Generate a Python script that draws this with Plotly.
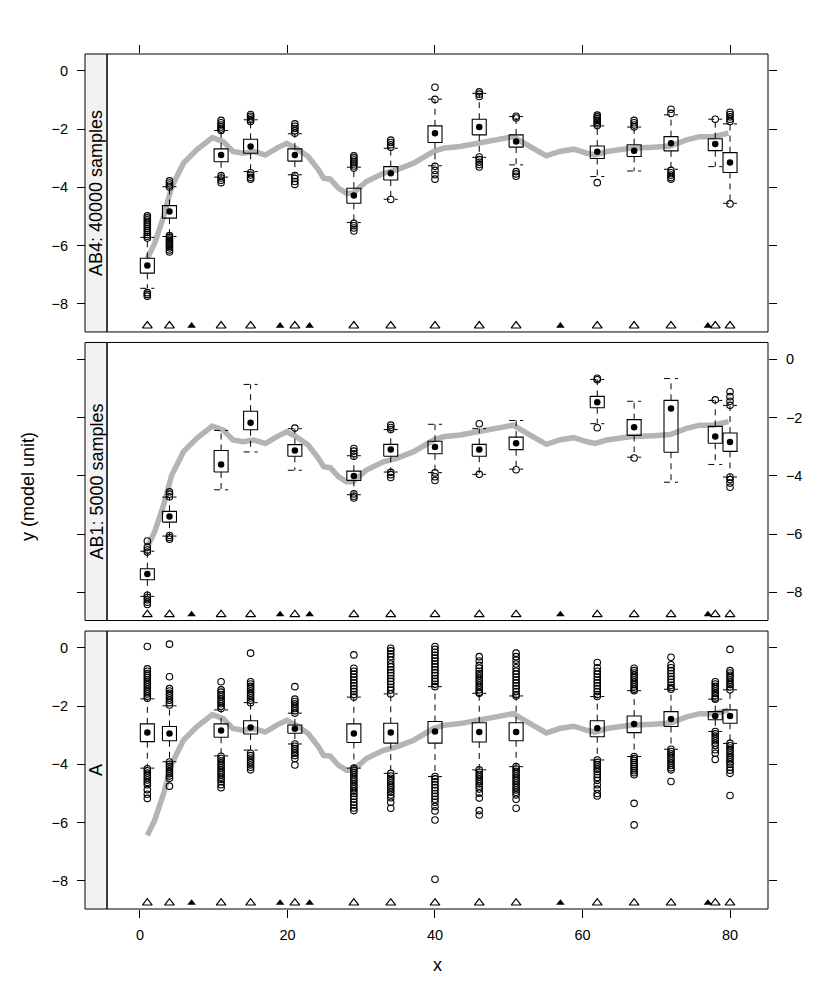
import plotly.graph_objects as go

# positions along x where boxes sit, plus the rug of triangles at the bottom
box_x = [1, 4, 11, 15, 21, 29, 34, 40, 46, 51, 62, 67, 72, 78, 80]
rug_open_x = [1, 4, 11, 15, 21, 29, 34, 40, 46, 51, 62, 67, 72, 78, 80]
rug_filled_x = [7, 19, 23, 57, 77]
rug_y = -8.76

# grey reference curve (same in every panel)
smooth_x = [1, 2, 3.2, 4.3, 5.9, 7.7, 9.8, 11.3, 12.6, 14.0, 15.4, 17.0, 18.5, 19.9,
            21.2, 22.8, 24.2, 24.9, 25.8, 26.9, 28.0, 28.9, 30.7, 33.0, 34.8, 37.1,
            39.8, 41.1, 43.4, 45.7, 48.4, 50.6, 52.9, 55.1, 56.9, 58.8, 60.6, 61.7,
            63.3, 66.4, 69.6, 71.9, 74.1, 75.9, 77.7, 79.8]
smooth_y = [-6.44, -5.92, -5.01, -3.98, -3.17, -2.71, -2.29, -2.43, -2.77, -2.83, -2.77,
            -2.89, -2.66, -2.49, -2.66, -2.94, -3.40, -3.69, -3.72, -4.03, -4.20, -4.20,
            -3.80, -3.52, -3.40, -3.17, -2.77, -2.66, -2.60, -2.49, -2.37, -2.26, -2.60,
            -2.92, -2.77, -2.69, -2.83, -2.89, -2.77, -2.66, -2.62, -2.58, -2.37, -2.26,
            -2.26, -2.14]

# AB4: 40000 samples
ab4_q3 = [-6.44, -4.63, -2.68, -2.35, -2.68, -4.03, -3.29, -1.89, -1.66, -2.20, -2.58, -2.54, -2.26, -2.33, -2.81]
ab4_q1 = [-6.95, -5.06, -3.12, -2.83, -3.10, -4.55, -3.75, -2.46, -2.20, -2.62, -3.01, -2.94, -2.75, -2.74, -3.49]
ab4_med = [-6.69, -4.83, -2.89, -2.60, -2.89, -4.28, -3.52, -2.14, -1.93, -2.43, -2.78, -2.74, -2.49, -2.51, -3.15]
ab4_hi = [-5.72, -3.98, -2.05, -1.68, -2.16, -3.31, -2.66, -0.97, -0.77, -1.57, -1.89, -1.93, -1.51, -1.66, -1.82]
ab4_lo = [-7.47, -5.69, -3.65, -3.46, -3.57, -5.21, -4.41, -3.26, -2.97, -3.23, -3.63, -3.44, -3.38, -3.29, -4.55]
ab4_out = [
    [-4.98, -5.05, -5.12, -5.2, -5.27, -5.34, -5.41, -5.48, -5.55, -5.62, -5.68, -5.74, -7.62, -7.68, -7.74],
    [-3.78, -3.85, -3.92, -3.99, -5.66, -5.72, -5.78, -5.84, -5.9, -5.96, -6.02, -6.08, -6.15, -6.22],
    [-1.7, -1.78, -1.86, -1.93, -2.0, -2.05, -3.6, -3.68, -3.76, -3.84],
    [-1.5, -1.56, -1.62, -1.68, -1.74, -3.5, -3.58, -3.66, -3.72],
    [-1.82, -1.9, -1.98, -2.06, -2.14, -3.6, -3.7, -3.8, -3.9],
    [-2.92, -2.99, -3.06, -3.13, -3.2, -3.27, -3.34, -5.24, -5.32, -5.4, -5.5],
    [-2.38, -2.46, -2.54, -2.62, -4.42],
    [-0.56, -0.98, -3.28, -3.42, -3.57, -3.72],
    [-0.72, -0.8, -0.88, -2.96, -3.05, -3.14, -3.22, -3.3],
    [-1.56, -1.62, -3.46, -3.54, -3.62],
    [-1.52, -1.58, -1.64, -1.7, -1.76, -1.82, -1.88, -3.84],
    [-1.7, -1.78, -1.86, -1.93],
    [-1.32, -1.46, -3.42, -3.5, -3.58, -3.66, -3.72],
    [-1.66],
    [-1.42, -1.5, -1.58, -1.66, -1.74, -4.57],
]

# AB1: 5000 samples
ab1_q3 = [-7.19, -5.22, -3.13, -1.78, -2.93, -3.84, -2.92, -2.81, -2.92, -2.67, -1.27, -2.07, -1.41, -2.30, -2.53]
ab1_q1 = [-7.57, -5.59, -3.87, -2.42, -3.33, -4.16, -3.33, -3.24, -3.33, -3.10, -1.66, -2.61, -3.19, -2.88, -3.16]
ab1_med = [-7.37, -5.40, -3.61, -2.18, -3.13, -4.01, -3.10, -3.01, -3.10, -2.88, -1.47, -2.33, -1.69, -2.65, -2.84]
ab1_hi = [-6.59, -4.73, -2.44, -0.86, -2.38, -3.31, -2.41, -2.23, -2.38, -2.10, -0.69, -1.44, -0.66, -1.41, -1.58]
ab1_lo = [-8.14, -6.07, -4.48, -3.18, -3.81, -4.65, -3.87, -3.89, -3.95, -3.77, -2.21, -3.36, -4.22, -3.61, -4.04]
ab1_out = [
    [-6.24, -6.45, -6.55, -6.62, -8.1, -8.18, -8.26, -8.34, -8.42],
    [-4.55, -4.63, -4.72, -6.05, -6.12, -6.18],
    [],
    [],
    [-2.36],
    [-3.06, -3.15, -3.24, -3.33, -4.62, -4.7, -4.76],
    [-2.26, -2.34, -2.41, -3.88, -3.96, -4.06],
    [-3.9, -4.03, -4.16],
    [-2.21, -3.95],
    [-3.79],
    [-0.65, -0.7, -2.35],
    [-3.39],
    [],
    [-1.39],
    [-1.11, -1.28, -1.44, -1.58, -4.04, -4.13, -4.25, -4.39],
]

# A
a_q3 = [-2.61, -2.70, -2.61, -2.50, -2.65, -2.61, -2.59, -2.53, -2.57, -2.57, -2.50, -2.34, -2.19, -2.19, -2.13]
a_q1 = [-3.22, -3.19, -3.07, -2.96, -2.93, -3.25, -3.27, -3.27, -3.23, -3.19, -3.05, -2.91, -2.70, -2.47, -2.59]
a_med = [-2.91, -2.94, -2.84, -2.73, -2.78, -2.94, -2.91, -2.87, -2.89, -2.89, -2.76, -2.61, -2.44, -2.34, -2.34]
a_hi = [-1.75, -1.99, -2.13, -1.88, -2.24, -1.69, -1.58, -1.33, -1.56, -1.65, -1.67, -1.47, -1.42, -1.76, -1.44]
a_lo = [-4.13, -3.91, -3.71, -3.51, -3.30, -4.13, -4.31, -4.42, -4.19, -4.08, -3.85, -3.73, -3.48, -2.87, -3.28]
a_out = [
    [0.05, -0.72, -0.8, -0.88, -0.95, -1.02, -1.1, -1.18, -1.26, -1.34, -1.42, -1.5, -1.58, -1.66, -1.73,
     -4.15, -4.22, -4.3, -4.38, -4.46, -4.54, -4.62, -4.7, -4.87, -5.03, -5.17],
    [0.13, -0.99, -1.4, -1.48, -1.56, -1.64, -1.72, -1.8, -1.88, -1.96,
     -3.92, -4.0, -4.08, -4.16, -4.24, -4.32, -4.4, -4.48, -4.75],
    [-1.16, -1.44, -1.52, -1.6, -1.68, -1.76, -1.84, -1.92, -2.0, -2.08,
     -3.72, -3.8, -3.88, -3.96, -4.04, -4.12, -4.2, -4.28, -4.36, -4.44, -4.52, -4.6, -4.7, -4.8],
    [-0.18, -1.16, -1.24, -1.32, -1.4, -1.48, -1.56, -1.64, -1.72, -1.8, -1.88,
     -3.62, -3.7, -3.78, -3.86, -3.94, -4.02, -4.1, -4.19],
    [-1.33, -1.76, -1.84, -1.92, -2.0, -2.08, -2.16, -2.24,
     -3.3, -3.38, -3.46, -3.54, -3.62, -3.7, -3.8, -4.02],
    [-0.24, -0.7, -0.8, -0.9, -1.0, -1.1, -1.2, -1.3, -1.4, -1.5, -1.6, -1.69,
     -4.13, -4.2, -4.28, -4.36, -4.44, -4.52, -4.6, -4.68, -4.76, -4.84, -4.92, -5.0, -5.1, -5.2, -5.3,
     -5.4, -5.5, -5.59],
    [-0.01, -0.1, -0.2, -0.3, -0.42, -0.55, -0.65, -0.75, -0.85, -0.95, -1.05, -1.15, -1.25, -1.35, -1.45,
     -1.58, -4.31, -4.4, -4.48, -4.56, -4.64, -4.72, -4.8, -4.88, -4.96, -5.05, -5.15, -5.3, -5.51],
    [0.05, -0.05, -0.15, -0.25, -0.35, -0.45, -0.55, -0.65, -0.75, -0.85, -0.95, -1.05, -1.15, -1.25,
     -1.33, -4.42, -4.5, -4.6, -4.7, -4.8, -4.9, -5.0, -5.1, -5.2, -5.3, -5.45, -5.6, -5.91, -7.95],
    [-0.3, -0.45, -0.6, -0.7, -0.8, -0.88, -0.96, -1.04, -1.12, -1.2, -1.28, -1.36, -1.44, -1.52, -1.56,
     -4.19, -4.27, -4.35, -4.43, -4.51, -4.59, -4.67, -4.75, -4.85, -4.99, -5.16, -5.59, -5.74],
    [-0.18, -0.3, -0.42, -0.55, -0.68, -0.8, -0.9, -1.0, -1.1, -1.2, -1.3, -1.4, -1.5, -1.6, -1.65,
     -4.08, -4.16, -4.24, -4.32, -4.4, -4.48, -4.56, -4.64, -4.72, -4.8, -4.88, -4.96, -5.05, -5.2, -5.51],
    [-0.5, -0.68, -0.8, -0.9, -1.0, -1.1, -1.2, -1.3, -1.4, -1.5, -1.6, -1.67,
     -3.85, -3.93, -4.01, -4.09, -4.17, -4.25, -4.35, -4.45, -4.55, -4.7, -4.85, -5.0, -5.09],
    [-0.7, -0.78, -0.86, -0.94, -1.02, -1.1, -1.18, -1.26, -1.34, -1.42, -1.47,
     -3.73, -3.8, -3.87, -3.94, -4.01, -4.08, -4.15, -4.22, -4.29, -4.36, -5.34, -6.08],
    [-0.32, -0.58, -0.68, -0.78, -0.88, -0.98, -1.08, -1.18, -1.28, -1.36, -1.42,
     -3.48, -3.56, -3.64, -3.72, -3.8, -3.88, -3.96, -4.04, -4.12, -4.19, -4.59],
    [-1.16, -1.24, -1.32, -1.4, -1.48, -1.56, -1.64, -1.72, -1.76,
     -2.87, -2.95, -3.03, -3.11, -3.19, -3.27, -3.35, -3.5, -3.62, -3.83],
    [-0.05, -0.78, -0.86, -0.94, -1.02, -1.1, -1.18, -1.26, -1.34, -1.44,
     -3.28, -3.36, -3.44, -3.52, -3.6, -3.68, -3.76, -3.84, -3.92, -4.0, -4.1, -4.2, -4.31, -5.07],
]

strip_labels = ["AB4: 40000 samples", "AB1: 5000 samples", "A"]
y_ticks = [-8, -6, -4, -2, 0]
x_ticks = [0, 20, 40, 60, 80]

half = 0.95
y_range = [-8.97, 0.58]
x_range = [-4.47, 85.15]
strip_w = 22 / 683

panels = [
    ("x", "y", strip_labels[0], ab4_q1, ab4_q3, ab4_med, ab4_lo, ab4_hi, ab4_out),
    ("x2", "y2", strip_labels[1], ab1_q1, ab1_q3, ab1_med, ab1_lo, ab1_hi, ab1_out),
    ("x3", "y3", strip_labels[2], a_q1, a_q3, a_med, a_lo, a_hi, a_out),
]

fig = go.Figure()
shapes = []
annotations = []

for xa, ya, label, q1, q3, med, lo, hi, out in panels:
    fig.add_trace(go.Scatter(x=smooth_x, y=smooth_y, mode='lines',
                             line=dict(color='#b4b4b4', width=5.5),
                             xaxis=xa, yaxis=ya))

    bx, by = [], []
    wx, wy = [], []
    ox, oy = [], []
    for i, x in enumerate(box_x):
        bx += [x - half, x + half, x + half, x - half, x - half, None]
        by += [q1[i], q1[i], q3[i], q3[i], q1[i], None]
        wx += [x, x, None, x, x, None,
               x - half, x + half, None, x - half, x + half, None]
        wy += [q3[i], hi[i], None, q1[i], lo[i], None,
               hi[i], hi[i], None, lo[i], lo[i], None]
        ox += [x] * len(out[i])
        oy += out[i]

    fig.add_trace(go.Scatter(x=wx, y=wy, mode='lines',
                             line=dict(color='black', width=1, dash='6px,5px'),
                             xaxis=xa, yaxis=ya))
    fig.add_trace(go.Scatter(x=bx, y=by, mode='lines',
                             line=dict(color='black', width=1.1),
                             xaxis=xa, yaxis=ya))
    fig.add_trace(go.Scatter(x=ox, y=oy, mode='markers',
                             marker=dict(symbol='circle-open', size=6.5, color='black',
                                         line=dict(width=1.1)),
                             xaxis=xa, yaxis=ya))
    fig.add_trace(go.Scatter(x=box_x, y=med, mode='markers',
                             marker=dict(symbol='circle', size=6.5, color='black'),
                             xaxis=xa, yaxis=ya))
    fig.add_trace(go.Scatter(x=rug_open_x, y=[rug_y] * len(rug_open_x), mode='markers',
                             marker=dict(symbol='triangle-up-open', size=8.5, color='black',
                                         line=dict(width=1.2)),
                             xaxis=xa, yaxis=ya))
    fig.add_trace(go.Scatter(x=rug_filled_x, y=[rug_y] * len(rug_filled_x), mode='markers',
                             marker=dict(symbol='triangle-up', size=7.5, color='black'),
                             xaxis=xa, yaxis=ya))

    sfx = '' if xa == 'x' else xa[1:]
    shapes.append(dict(type='rect', xref='x%s domain' % sfx, yref='y%s domain' % sfx,
                       x0=0, x1=1, y0=0, y1=1, line=dict(color='black', width=1)))
    shapes.append(dict(type='rect', xref='paper', yref='y%s domain' % sfx,
                       x0=0, x1=strip_w, y0=0, y1=1, fillcolor='#f2f2f2',
                       line=dict(color='black', width=1), layer='below'))
    annotations.append(dict(text=label, xref='paper', yref='y%s domain' % sfx,
                            x=strip_w / 2, y=0.5, textangle=-90, showarrow=False,
                            font=dict(size=18, color='black'),
                            xanchor='center', yanchor='middle'))

# dummy traces so that the right-hand overlay axes get drawn
for xa, ya in [('x', 'y4'), ('x2', 'y5'), ('x3', 'y6')]:
    fig.add_trace(go.Scatter(x=[None], y=[None], xaxis=xa, yaxis=ya))

annotations.append(dict(text='y (model unit)', xref='paper', yref='paper',
                        x=(28 - 85) / 683, y=(909 - 487) / 855, textangle=-90,
                        showarrow=False, font=dict(size=18, color='black'),
                        xanchor='center', yanchor='middle'))
annotations.append(dict(text='x', xref='paper', yref='paper',
                        x=(437.5 - 85) / 683, y=(909 - 965) / 855,
                        showarrow=False, font=dict(size=18, color='black'),
                        xanchor='center', yanchor='middle'))

tickfont = dict(size=14.5, color='black')
yl = dict(range=y_range, tickvals=y_ticks, ticks='outside', ticklen=8, tickcolor='black',
          showgrid=False, zeroline=False, showline=False, tickfont=tickfont,
          anchor='free', position=0, ticklabelstandoff=6)
yr = dict(range=y_range, tickvals=y_ticks, ticks='outside', ticklen=8, tickcolor='black',
          showgrid=False, zeroline=False, showline=False, tickfont=tickfont, side='right',
          ticklabelstandoff=6)
xbase = dict(range=x_range, tickvals=x_ticks, tickcolor='black', ticklen=8,
             showgrid=False, zeroline=False, showline=False, tickfont=tickfont,
             domain=[strip_w, 1])

# the page body adds an 8px offset, so margins are shifted to compensate
fig.update_layout(
    width=830, height=997,
    margin=dict(l=77, r=70, t=46, b=96),
    paper_bgcolor='white', plot_bgcolor='white',
    font=dict(family='Liberation Sans, Arial, sans-serif', color='black'),
    showlegend=False, hovermode=False,
    xaxis=dict(xbase, anchor='y', side='top', ticks='outside', showticklabels=False),
    xaxis2=dict(xbase, anchor='y2', ticks='', showticklabels=False),
    xaxis3=dict(xbase, anchor='y3', side='bottom', ticks='outside', ticklabelstandoff=5),
    yaxis=dict(yl, domain=[0.6749, 1]),
    yaxis2=dict(yl, domain=[0.3374, 0.6626], showticklabels=False),
    yaxis3=dict(yl, domain=[0, 0.3251]),
    yaxis4=dict(yr, overlaying='y', anchor='x', showticklabels=False),
    yaxis5=dict(yr, overlaying='y2', anchor='x2'),
    yaxis6=dict(yr, overlaying='y3', anchor='x3', showticklabels=False),
    shapes=shapes,
    annotations=annotations,
)

fig.write_html("out.html")
